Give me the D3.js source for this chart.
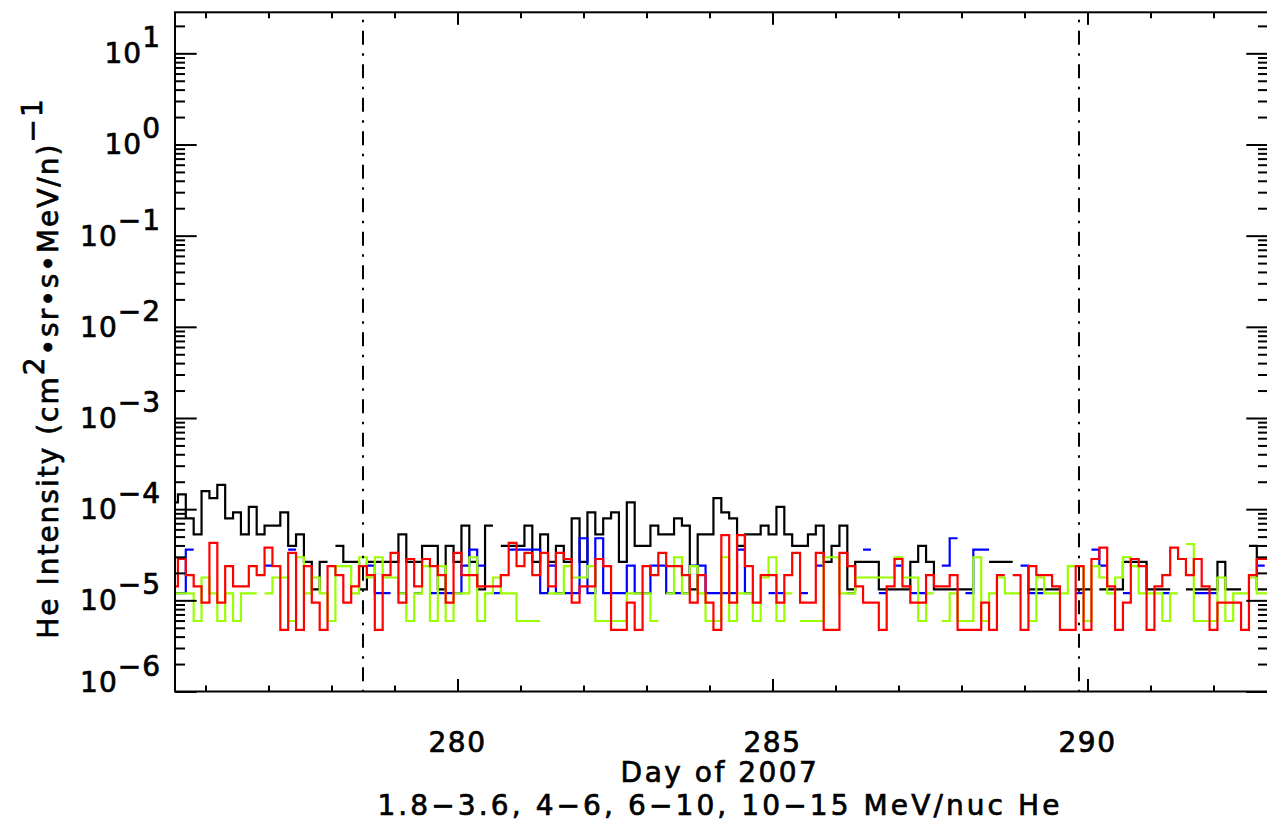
<!DOCTYPE html>
<html><head><meta charset="utf-8">
<script src="https://cdn.jsdelivr.net/npm/d3@7"></script>
<style>
body{margin:0;background:#fff;}
svg text{font-family:"DejaVu Sans",sans-serif;fill:#000;stroke:#000;stroke-width:0.7px;}
</style></head>
<body>
<svg id="chart" width="1267" height="826"></svg>
<script>
// ---------------- data ----------------
const binStartDay = 275.5;      // centre of first 3-hour bin
const binDays = 0.125;           // 3 hours
const eventDays = [278.5, 289.865];
const xMajorTicks = [280, 285, 290];
const xMinorTicks = [276,277,278,279,281,282,283,284,286,287,288,289,291,292];
const yMajorTicks = [1e-6,1e-5,1e-4,1e-3,1e-2,1e-1,1e0,1e1];
const yExponents  = ["−6","−5","−4","−3","−2","−1","0","1"];
const xTitle = "Day of 2007";
const xSubtitle = "1.8−3.6, 4−6, 6−10, 10−15 MeV/nuc He";

// 1.8-3.6 MeV/nuc (black)
const heLow = [
 1.19e-4,1.45e-4,7.92e-5,5.28e-5,1.58e-4,1.32e-4,1.85e-4,7.92e-5,9.24e-5,5.28e-5,
 1.06e-4,5.28e-5,6.6e-5,6.6e-5,9.24e-5,3.96e-5,5.28e-5,2.64e-5,1.32e-5,2.64e-5,
 null,3.96e-5,2.64e-5,2.64e-5,1.32e-5,2.64e-5,2.64e-5,2.64e-5,2.64e-5,5.28e-5,
 2.64e-5,2.64e-5,3.96e-5,3.96e-5,1.32e-5,3.96e-5,2.64e-5,6.6e-5,2.64e-5,1.32e-5,
 6.6e-5,null,3.96e-5,3.96e-5,3.96e-5,6.6e-5,2.64e-5,5.28e-5,2.64e-5,3.96e-5,
 2.64e-5,7.92e-5,2.64e-5,9.24e-5,5.28e-5,7.92e-5,9.24e-5,2.64e-5,1.19e-4,3.96e-5,
 3.96e-5,6.6e-5,5.28e-5,5.28e-5,7.92e-5,6.6e-5,1.32e-5,5.28e-5,5.28e-5,1.32e-4,
 9.24e-5,7.92e-5,3.96e-5,5.28e-5,5.28e-5,6.6e-5,5.28e-5,1.06e-4,5.28e-5,3.96e-5,
 3.96e-5,5.28e-5,6.6e-5,2.64e-5,3.96e-5,6.6e-5,1.32e-5,2.64e-5,2.64e-5,2.64e-5,
 1.32e-5,1.32e-5,1.32e-5,1.32e-5,2.64e-5,3.96e-5,2.64e-5,1.32e-5,1.32e-5,1.32e-5,
 1.32e-5,1.32e-5,null,null,2.64e-5,2.64e-5,2.64e-5,null,null,1.32e-5,
 1.32e-5,1.32e-5,1.32e-5,null,null,1.32e-5,1.32e-5,null,1.32e-5,1.32e-5,
 1.32e-5,2.64e-5,2.64e-5,2.64e-5,1.32e-5,1.32e-5,1.32e-5,null,null,1.32e-5,
 1.32e-5,1.32e-5,1.32e-5,2.64e-5,1.32e-5,1.32e-5,null,3.96e-5,1.32e-5,1.32e-5];

// 4-6 MeV/nuc (blue)
const heMid = [
 1.2e-5,1.2e-5,3.6e-5,null,null,null,null,null,null,null,
 null,null,2.4e-5,null,null,3.6e-5,null,null,null,null,
 null,null,null,null,null,2.4e-5,1.2e-5,1.2e-5,null,1.2e-5,
 null,1.2e-5,null,1.2e-5,1.2e-5,1.2e-5,1.2e-5,2.4e-5,3.6e-5,2.4e-5,
 null,1.2e-5,null,3.6e-5,3.6e-5,3.6e-5,3.6e-5,1.2e-5,2.4e-5,1.2e-5,
 1.2e-5,1.2e-5,4.8e-5,1.2e-5,4.8e-5,1.2e-5,1.2e-5,1.2e-5,2.4e-5,1.2e-5,
 1.2e-5,2.4e-5,2.4e-5,1.2e-5,1.2e-5,1.2e-5,2.4e-5,2.4e-5,1.2e-5,1.2e-5,
 1.2e-5,1.2e-5,3.6e-5,1.2e-5,null,null,1.2e-5,1.2e-5,null,null,
 1.2e-5,null,2.4e-5,null,null,null,1.2e-5,null,3.6e-5,null,
 1.2e-5,null,2.4e-5,null,1.2e-5,1.2e-5,null,null,2.4e-5,4.8e-5,
 null,1.2e-5,3.6e-5,3.6e-5,null,null,null,null,2.4e-5,1.2e-5,
 1.2e-5,null,null,null,null,1.2e-5,null,3.6e-5,2.4e-5,null,
 null,1.2e-5,null,null,null,null,1.2e-5,null,null,null,
 1.2e-5,1.2e-5,1.2e-5,null,null,null,null,null,2.4e-5,null];

// 6-10 MeV/nuc (green)
const heHigh = [
 1.19e-5,1.19e-5,1.19e-5,5.93e-6,1.78e-5,1.19e-5,5.93e-6,1.19e-5,5.93e-6,1.19e-5,
 1.19e-5,null,1.19e-5,1.78e-5,1.78e-5,5.93e-6,2.97e-5,1.19e-5,1.78e-5,1.19e-5,
 5.93e-6,2.37e-5,2.37e-5,1.19e-5,2.97e-5,1.78e-5,2.97e-5,1.78e-5,1.78e-5,1.19e-5,
 5.93e-6,1.19e-5,2.37e-5,5.93e-6,2.37e-5,5.93e-6,1.19e-5,1.19e-5,2.97e-5,5.93e-6,
 1.19e-5,1.78e-5,1.19e-5,1.19e-5,5.93e-6,5.93e-6,5.93e-6,null,1.19e-5,1.19e-5,
 2.37e-5,1.78e-5,1.78e-5,2.37e-5,5.93e-6,5.93e-6,5.93e-6,5.93e-6,1.19e-5,1.19e-5,
 1.19e-5,5.93e-6,null,1.19e-5,2.97e-5,1.19e-5,2.37e-5,1.19e-5,5.93e-6,5.93e-6,
 2.97e-5,5.93e-6,1.19e-5,1.19e-5,5.93e-6,1.78e-5,2.97e-5,5.93e-6,1.19e-5,null,
 5.93e-6,5.93e-6,5.93e-6,2.97e-5,2.97e-5,1.19e-5,1.19e-5,1.78e-5,1.78e-5,1.78e-5,
 1.78e-5,1.78e-5,2.97e-5,1.78e-5,1.78e-5,5.93e-6,1.19e-5,null,5.93e-6,1.19e-5,
 5.93e-6,5.93e-6,2.97e-5,5.93e-6,1.19e-5,1.78e-5,1.19e-5,1.19e-5,null,5.93e-6,
 1.78e-5,1.19e-5,1.19e-5,1.19e-5,2.37e-5,2.37e-5,5.93e-6,2.37e-5,1.78e-5,1.19e-5,
 1.78e-5,2.97e-5,2.37e-5,1.19e-5,1.19e-5,1.19e-5,5.93e-6,1.19e-5,null,4.15e-5,
 5.93e-6,5.93e-6,5.93e-6,1.78e-5,5.93e-6,1.19e-5,1.19e-5,1.78e-5,1.19e-5,1.19e-5];

// 10-15 MeV/nuc (red)
const heTop = [
 1.42e-5,2.84e-5,1.89e-5,1.42e-5,9.46e-6,4.26e-5,9.46e-6,2.37e-5,1.42e-5,1.42e-5,
 2.37e-5,1.89e-5,3.78e-5,2.37e-5,4.73e-6,3.31e-5,4.73e-6,2.37e-5,9.46e-6,4.73e-6,
 2.37e-5,1.89e-5,9.46e-6,1.42e-5,2.37e-5,1.89e-5,4.73e-6,1.89e-5,3.31e-5,9.46e-6,
 2.84e-5,1.42e-5,2.84e-5,2.37e-5,1.89e-5,9.46e-6,3.31e-5,1.89e-5,1.89e-5,1.42e-5,
 1.42e-5,1.42e-5,1.89e-5,4.26e-5,2.37e-5,3.31e-5,1.89e-5,3.31e-5,1.42e-5,3.31e-5,
 2.84e-5,9.46e-6,1.42e-5,1.42e-5,2.84e-5,2.37e-5,4.73e-6,4.73e-6,9.46e-6,4.73e-6,
 2.37e-5,1.89e-5,3.31e-5,2.37e-5,2.37e-5,1.89e-5,9.46e-6,1.89e-5,9.46e-6,4.73e-6,
 5.2e-5,9.46e-6,5.2e-5,2.37e-5,9.46e-6,1.89e-5,1.89e-5,9.46e-6,1.89e-5,3.31e-5,
 9.46e-6,9.46e-6,3.31e-5,4.73e-6,4.73e-6,3.31e-5,2.37e-5,1.42e-5,9.46e-6,9.46e-6,
 4.73e-6,1.42e-5,2.84e-5,1.42e-5,9.46e-6,9.46e-6,1.89e-5,1.42e-5,1.42e-5,1.89e-5,
 4.73e-6,4.73e-6,4.73e-6,9.46e-6,4.73e-6,1.89e-5,null,1.89e-5,4.73e-6,2.37e-5,
 1.89e-5,1.89e-5,1.42e-5,4.73e-6,4.73e-6,2.37e-5,4.73e-6,2.84e-5,3.78e-5,1.42e-5,
 4.73e-6,9.46e-6,2.84e-5,2.37e-5,4.73e-6,1.42e-5,1.89e-5,3.78e-5,2.84e-5,1.89e-5,
 2.84e-5,1.42e-5,4.73e-6,9.46e-6,9.46e-6,9.46e-6,4.73e-6,1.89e-5,2.84e-5,2.84e-5];

const seriesColors = ["#000000","#0000ff","#99ff00","#ff0000"];
const seriesValues = [heLow, heMid, heHigh, heTop];

// ---------------- layout ----------------
const L = 175, R = 1268, T = 12.3, B = 691.5;
const svg = d3.select("#chart");
const FS = 28;

const x = d3.scaleLinear().domain([275.516, 292.865]).range([L, R]);
const y = d3.scaleLog().domain([1e-6, Math.pow(10, 1.45)]).range([B, T]);

const days = seriesValues[0].map((_, i) => binStartDay + i * binDays);

svg.append("defs").append("clipPath").attr("id","plotclip")
  .append("rect").attr("x", L).attr("y", T).attr("width", R - L).attr("height", B - T);

// data lines (histogram steps)
const line = d3.line().defined(d => d.v != null).x(d => x(d.t)).y(d => y(d.v));
const gData = svg.append("g").attr("clip-path","url(#plotclip)");
seriesValues.forEach((vals, si) => {
  const pts = [];
  vals.forEach((v, i) => {
    const t = days[i];
    if (v == null) pts.push({t, v: null});
    else { pts.push({t: t - binDays/2, v}); pts.push({t: t + binDays/2, v}); }
  });
  gData.append("path").attr("d", line(pts))
    .attr("fill","none").attr("stroke", seriesColors[si])
    .attr("stroke-width", 2.2).attr("stroke-linejoin","miter");
});

// event lines
svg.append("g").selectAll("line").data(eventDays).join("line")
  .attr("x1", d => x(d)).attr("x2", d => x(d)).attr("y1", T).attr("y2", B)
  .attr("stroke","#000").attr("stroke-width",2)
  .attr("stroke-dasharray","14,8.5,2.5,8.5").attr("stroke-dashoffset",15);

// axes
function styleAxis(g){
  g.select(".domain").remove();
  g.selectAll(".tick line").attr("stroke","#000").attr("stroke-width",2);
  g.selectAll(".tick text").remove();
}
svg.append("g").attr("transform",`translate(0,${B})`)
  .call(d3.axisBottom(x).tickValues(xMajorTicks).tickSize(-12.5)).call(styleAxis);
svg.append("g").attr("transform",`translate(0,${B})`)
  .call(d3.axisBottom(x).tickValues(xMinorTicks).tickSize(-6)).call(styleAxis);
svg.append("g").attr("transform",`translate(0,${T})`)
  .call(d3.axisTop(x).tickValues(xMajorTicks).tickSize(-12.5)).call(styleAxis);
svg.append("g").attr("transform",`translate(0,${T})`)
  .call(d3.axisTop(x).tickValues(xMinorTicks).tickSize(-6)).call(styleAxis);

const yMinor = [];
yMajorTicks.forEach(m => { for (let k = 2; k <= 9; k++) { const v = m * k; if (v <= y.domain()[1]) yMinor.push(v); } });
svg.append("g").attr("transform",`translate(${L},0)`)
  .call(d3.axisLeft(y).tickValues(yMajorTicks).tickSize(-21.7)).call(styleAxis);
svg.append("g").attr("transform",`translate(${L},0)`)
  .call(d3.axisLeft(y).tickValues(yMinor).tickSize(-10)).call(styleAxis);
svg.append("g").attr("transform",`translate(${R},0)`)
  .call(d3.axisRight(y).tickValues(yMajorTicks).tickSize(-21.7)).call(styleAxis);
svg.append("g").attr("transform",`translate(${R},0)`)
  .call(d3.axisRight(y).tickValues(yMinor).tickSize(-10)).call(styleAxis);

// frame
svg.append("rect").attr("x", L).attr("y", T).attr("width", R - L).attr("height", B - T)
  .attr("fill","none").attr("stroke","#000").attr("stroke-width",2);

// x labels
svg.append("g").selectAll("text").data(xMajorTicks).join("text")
  .attr("x", d => x(d)).attr("y", 752).attr("text-anchor","middle")
  .attr("font-size", FS).attr("letter-spacing", 1.5).text(d => d);

// y labels
const yl = svg.append("g").selectAll("text").data(yMajorTicks).join("text")
  .attr("x", 161).attr("y", d => Math.min(y(d), 682) + 10)
  .attr("text-anchor","end").attr("font-size", FS).attr("letter-spacing", 1);
yl.append("tspan").text("10");
yl.append("tspan").attr("dy", -16).text((d, i) => yExponents[i]);

// axis titles
svg.append("text").attr("x", 720).attr("y", 782).attr("text-anchor","middle")
  .attr("font-size", FS).attr("letter-spacing", 2.5).text(xTitle);
svg.append("text").attr("x", 720).attr("y", 815).attr("text-anchor","middle")
  .attr("font-size", FS).attr("letter-spacing", 3.1).text(xSubtitle);

const yt = svg.append("text").attr("transform","translate(58,368) rotate(-90)")
  .attr("text-anchor","middle").attr("font-size", FS).attr("letter-spacing", 2);
yt.append("tspan").text("He Intensity (cm");
yt.append("tspan").attr("dy",-14).text("2");
yt.append("tspan").attr("dy",14).text("•sr•s•MeV/n)");
yt.append("tspan").attr("dy",-16).text("−1");
</script>
</body></html>
